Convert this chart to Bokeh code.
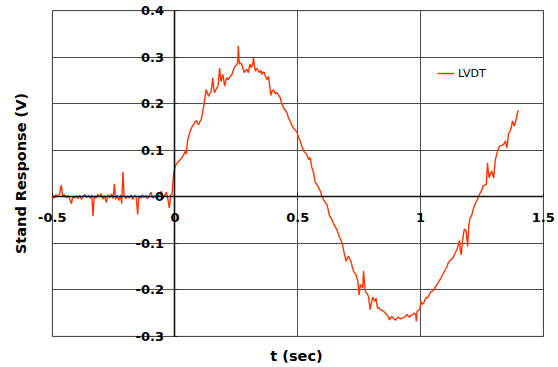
from bokeh.plotting import figure
from bokeh.models import (LinearAxis, FixedTicker, CustomJSTickFormatter, Range1d,
                          BoxAnnotation)
from bokeh.embed import file_html
from bokeh.resources import INLINE

# ---- data ----
t_sec = [
    -0.500, -0.492, -0.485, -0.478, -0.470, -0.463, -0.458, -0.450, -0.443, -0.436,
    -0.429, -0.422, -0.416, -0.409, -0.402, -0.395, -0.388, -0.381, -0.374, -0.367,
    -0.360, -0.353, -0.346, -0.339, -0.334, -0.329, -0.322, -0.315, -0.308, -0.301,
    -0.294, -0.287, -0.280, -0.273, -0.266, -0.259, -0.252, -0.247, -0.242, -0.235,
    -0.228, -0.221, -0.217, -0.212, -0.207, -0.200, -0.193, -0.186, -0.179, -0.172,
    -0.165, -0.158, -0.152, -0.147, -0.140, -0.133, -0.126, -0.119, -0.112, -0.105,
    -0.098, -0.091, -0.084, -0.077, -0.070, -0.063, -0.056, -0.049, -0.042, -0.035,
    -0.030, -0.023, -0.017, -0.012, -0.006,
    0.001, 0.008, 0.015, 0.022, 0.028, 0.035, 0.042, 0.046, 0.051, 0.057,
    0.062, 0.069, 0.076, 0.082, 0.087, 0.092, 0.096, 0.102, 0.107, 0.112,
    0.116, 0.122, 0.127, 0.132, 0.137, 0.142, 0.146, 0.150, 0.154, 0.158,
    0.161, 0.166, 0.171, 0.176, 0.182, 0.187, 0.191, 0.195, 0.199, 0.202,
    0.207, 0.211, 0.216, 0.222, 0.227, 0.232, 0.236, 0.241, 0.247, 0.252,
    0.256, 0.258, 0.262, 0.267, 0.272, 0.277, 0.282, 0.288, 0.293, 0.299,
    0.303, 0.306, 0.310, 0.314, 0.318, 0.320, 0.324, 0.327, 0.332, 0.336,
    0.341, 0.345, 0.350, 0.354, 0.359, 0.364, 0.369, 0.375, 0.381, 0.386,
    0.391, 0.396, 0.402, 0.408, 0.415, 0.422, 0.429, 0.435, 0.442, 0.449,
    0.456, 0.462, 0.469, 0.476, 0.483, 0.490, 0.497, 0.503, 0.510, 0.517,
    0.524, 0.530, 0.537, 0.544, 0.551, 0.555, 0.558, 0.565, 0.571, 0.576,
    0.580, 0.586, 0.592, 0.598, 0.605, 0.612, 0.619, 0.625, 0.630, 0.635,
    0.639, 0.644, 0.649, 0.654, 0.658, 0.664, 0.669, 0.675, 0.680, 0.685,
    0.689, 0.693, 0.697, 0.702, 0.707, 0.712, 0.717, 0.722, 0.727, 0.732,
    0.737, 0.741, 0.745, 0.750, 0.755, 0.760, 0.765, 0.768, 0.772, 0.776,
    0.782, 0.788, 0.795, 0.800, 0.806, 0.811, 0.815, 0.819, 0.825, 0.830,
    0.836, 0.842, 0.849, 0.856, 0.863, 0.869, 0.874, 0.879, 0.884, 0.891,
    0.898, 0.904, 0.911, 0.918, 0.925, 0.931, 0.938, 0.945, 0.950, 0.956,
    0.961, 0.966, 0.971, 0.975, 0.980, 0.983, 0.986, 0.991, 0.997, 1.002,
    1.007, 1.013, 1.018, 1.024, 1.028, 1.033, 1.038, 1.043, 1.049, 1.054,
    1.060, 1.067, 1.073, 1.080, 1.087, 1.094, 1.101, 1.108, 1.113, 1.118,
    1.125, 1.132, 1.140, 1.148, 1.154, 1.159, 1.162, 1.166, 1.172, 1.178,
    1.182, 1.186, 1.192, 1.197, 1.203, 1.209, 1.216, 1.223, 1.230, 1.236,
    1.243, 1.250, 1.254, 1.261, 1.268, 1.273, 1.277, 1.280, 1.285, 1.290,
    1.298, 1.305, 1.310, 1.314, 1.322, 1.330, 1.339, 1.346, 1.352, 1.359,
    1.364, 1.368, 1.375, 1.382, 1.390, 1.395, 1.399,
]

lvdt_v = [
    0.002, -0.003, 0.004, 0.000, 0.006, 0.025, 0.002, 0.004, -0.002, 0.003,
    -0.004, -0.015, 0.001, -0.003, 0.002, -0.004, 0.003, -0.006, 0.001, 0.005,
    -0.002, 0.003, -0.003, 0.004, -0.042, 0.002, -0.003, 0.005, 0.000, 0.007,
    -0.005, 0.002, -0.012, 0.004, -0.002, 0.006, -0.004, 0.028, -0.006, 0.003,
    -0.008, 0.004, -0.015, 0.053, 0.001, -0.004, 0.002, -0.003, 0.004, -0.006,
    0.003, 0.000, -0.038, 0.002, -0.003, 0.004, -0.002, 0.003, -0.004, 0.002,
    0.010, -0.003, 0.002, -0.002, 0.004, 0.000, 0.012, -0.003, 0.003, 0.010,
    -0.002, -0.024, 0.003, 0.005, 0.048,
    0.066, 0.072, 0.076, 0.080, 0.084, 0.090, 0.098, 0.092, 0.120, 0.132,
    0.141, 0.150, 0.155, 0.161, 0.164, 0.158, 0.155, 0.162, 0.166, 0.180,
    0.191, 0.212, 0.231, 0.222, 0.216, 0.222, 0.224, 0.238, 0.256, 0.232,
    0.224, 0.230, 0.234, 0.240, 0.277, 0.248, 0.255, 0.263, 0.250, 0.238,
    0.250, 0.256, 0.252, 0.256, 0.260, 0.263, 0.270, 0.277, 0.282, 0.285,
    0.292, 0.324, 0.285, 0.288, 0.285, 0.276, 0.267, 0.272, 0.274, 0.267,
    0.280, 0.285, 0.278, 0.281, 0.290, 0.299, 0.280, 0.270, 0.276, 0.274,
    0.270, 0.267, 0.272, 0.263, 0.268, 0.267, 0.258, 0.252, 0.259, 0.238,
    0.218, 0.228, 0.230, 0.222, 0.224, 0.218, 0.213, 0.200, 0.191, 0.186,
    0.181, 0.170, 0.163, 0.154, 0.147, 0.143, 0.139, 0.128, 0.120, 0.108,
    0.098, 0.095, 0.091, 0.080, 0.084, 0.070, 0.062, 0.051, 0.030, 0.028,
    0.025, 0.018, 0.012, 0.002, -0.006, -0.012, -0.017, -0.030, -0.042, -0.045,
    -0.049, -0.056, -0.061, -0.066, -0.069, -0.078, -0.085, -0.092, -0.099, -0.110,
    -0.121, -0.130, -0.139, -0.132, -0.128, -0.134, -0.139, -0.150, -0.160, -0.164,
    -0.167, -0.175, -0.182, -0.211, -0.189, -0.192, -0.196, -0.160, -0.185, -0.205,
    -0.208, -0.214, -0.243, -0.228, -0.216, -0.222, -0.225, -0.218, -0.240, -0.238,
    -0.243, -0.244, -0.246, -0.250, -0.254, -0.258, -0.265, -0.260, -0.258, -0.262,
    -0.266, -0.261, -0.259, -0.263, -0.261, -0.260, -0.258, -0.253, -0.257, -0.259,
    -0.255, -0.254, -0.252, -0.250, -0.253, -0.268, -0.247, -0.244, -0.243, -0.225,
    -0.231, -0.229, -0.222, -0.216, -0.218, -0.214, -0.208, -0.204, -0.203, -0.201,
    -0.195, -0.189, -0.184, -0.178, -0.171, -0.164, -0.157, -0.150, -0.142, -0.139,
    -0.135, -0.132, -0.122, -0.114, -0.104, -0.094, -0.115, -0.125, -0.091, -0.071,
    -0.070, -0.074, -0.107, -0.060, -0.045, -0.039, -0.025, -0.015, -0.008, 0.000,
    0.008, 0.014, 0.023, 0.025, 0.026, 0.073, 0.050, 0.041, 0.050, 0.055,
    0.040, 0.080, 0.090, 0.098, 0.109, 0.110, 0.113, 0.120, 0.105, 0.137,
    0.140, 0.145, 0.163, 0.152, 0.167, 0.180, 0.186,
]

x_ticks = [-0.5, 0, 0.5, 1, 1.5]
y_ticks = [-0.3, -0.2, -0.1, 0, 0.1, 0.2, 0.3, 0.4]
series_name = "LVDT"
x_title = "t (sec)"
y_title = "Stand Response (V)"

FONT = "DejaVu Sans"
LINE_COLOR = "#ff3300"
GRID_COLOR = "#4d4d4d"

x_lo, x_hi = x_ticks[0], x_ticks[-1]
y_lo, y_hi = y_ticks[0], y_ticks[-1]

# the frame is a little larger than the chart box so that the
# origin-crossing axes' labels are not clipped
p = figure(width=558, height=367, output_backend="svg", toolbar_location=None,
           x_range=Range1d(-0.56, 1.55), y_range=Range1d(-0.32, 0.42),
           min_border_left=37, min_border_right=3, min_border_top=1,
           min_border_bottom=22, background_fill_color="white",
           border_fill_color="white")
p.outline_line_color = None

# title-only axes on the frame edges
for ax in (p.xaxis[0], p.yaxis[0]):
    ax.ticker = FixedTicker(ticks=[])
    ax.axis_line_color = None
    ax.major_tick_line_color = None
    ax.minor_tick_line_color = None
    ax.major_label_text_font_size = "0px"
    ax.axis_label_text_font = FONT
    ax.axis_label_text_font_style = "bold"
    ax.axis_label_text_font_size = "14.5px"
    ax.axis_label_text_color = "black"
p.xaxis[0].axis_label = x_title
p.yaxis[0].axis_label = y_title
p.xaxis[0].axis_label_standoff = 2
p.yaxis[0].axis_label_standoff = 9

fmt = CustomJSTickFormatter(code="""
const v = Math.round(tick * 10) / 10;
return (Math.abs(v) < 1e-9) ? "0" : String(v);
""")

# grid, limited to the chart box
p.xgrid.ticker = FixedTicker(ticks=x_ticks)
p.ygrid.ticker = FixedTicker(ticks=y_ticks)
p.xgrid[0].bounds = (x_lo, x_hi)
p.ygrid[0].bounds = (y_lo, y_hi)
p.xgrid[0].cross_bounds = (y_lo, y_hi)
p.ygrid[0].cross_bounds = (x_lo, x_hi)
for g in (p.xgrid[0], p.ygrid[0]):
    g.grid_line_color = GRID_COLOR
    g.grid_line_width = 1
    g.grid_line_alpha = 1

# chart box
p.add_layout(BoxAnnotation(left=x_lo, right=x_hi, bottom=y_lo, top=y_hi,
                           fill_alpha=0, line_color="#333333", line_width=1,
                           level="underlay"))

# axes crossing at the origin
xax = LinearAxis(ticker=FixedTicker(ticks=x_ticks), formatter=fmt, fixed_location=0,
                 bounds=(x_lo, x_hi))
yax = LinearAxis(ticker=FixedTicker(ticks=y_ticks), formatter=fmt, fixed_location=0,
                 bounds=(y_lo, y_hi))
for ax in (xax, yax):
    ax.axis_line_color = "#111111"
    ax.axis_line_width = 1.6
    ax.major_tick_in = 3
    ax.major_tick_out = 0
    ax.minor_tick_in = 0
    ax.minor_tick_out = 0
    ax.major_tick_line_color = "#111111"
    ax.major_label_text_font = FONT
    ax.major_label_text_font_style = "bold"
    ax.major_label_text_font_size = "13px"
    ax.major_label_text_color = "black"
xax.major_label_standoff = 16
yax.major_label_standoff = 11
p.add_layout(xax, "below")
p.add_layout(yax, "left")

p.line(t_sec, lvdt_v, line_color=LINE_COLOR, line_width=1.4, legend_label=series_name)

lg = p.legend[0]
lg.location = (400, 265)
lg.border_line_color = None
lg.background_fill_alpha = 0
lg.padding = 0
lg.margin = 0
lg.glyph_width = 17
lg.glyph_height = 14
lg.label_height = 14
lg.label_standoff = 4
lg.label_text_font = FONT
lg.label_text_font_size = "11px"
lg.label_text_color = "black"

open("out.html", "w").write(file_html(p, INLINE))
